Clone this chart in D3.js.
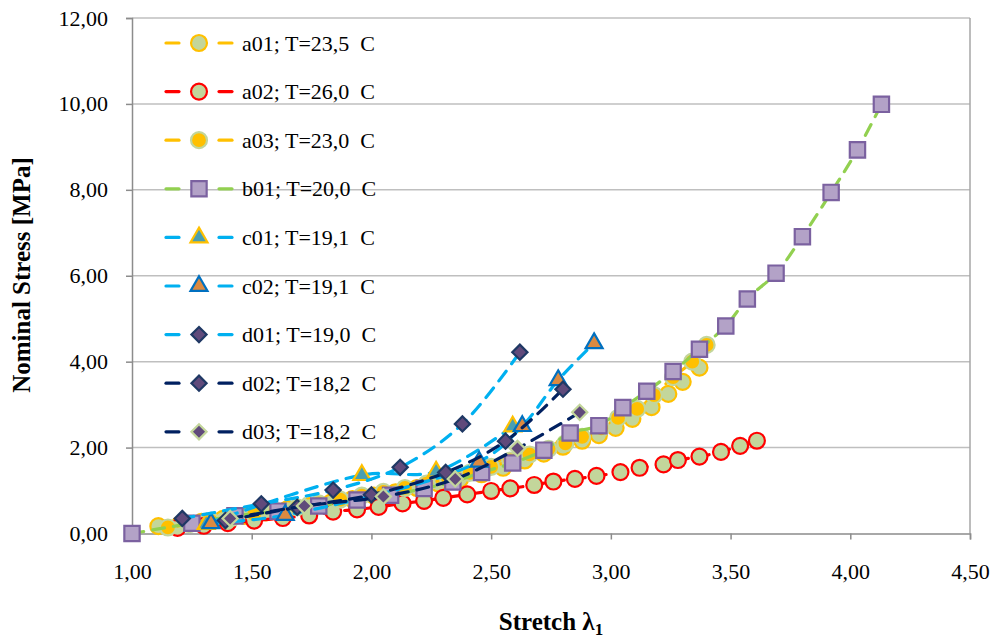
<!DOCTYPE html>
<html>
<head>
  <meta charset="utf-8">
  <title>Nominal stress vs stretch</title>
  <script src="https://d3js.org/d3.v7.min.js"></script>
  <style>
    body { margin: 0; background: #fff; }
    text { font-family: "Liberation Serif", "Times New Roman", serif; fill: #000; }
  </style>
</head>
<body>
<div id="chart"></div>
<script>
// values
var a01X = [1.11, 1.20, 1.29, 1.38, 1.47, 1.56, 1.65, 1.74, 1.83, 1.92, 2.01, 2.10, 2.19, 2.28, 2.37, 2.46, 2.55, 2.64, 2.72, 2.80, 2.88, 2.95, 3.02, 3.09, 3.17, 3.24, 3.30, 3.37];
var a01Y = [0.17, 0.21, 0.27, 0.34, 0.41, 0.49, 0.57, 0.64, 0.72, 0.80, 0.88, 0.96, 1.06, 1.16, 1.26, 1.38, 1.53, 1.70, 1.86, 2.02, 2.16, 2.29, 2.46, 2.67, 2.94, 3.25, 3.53, 3.86];
var a02X = [1.19, 1.30, 1.40, 1.51, 1.63, 1.74, 1.84, 1.94, 2.03, 2.13, 2.22, 2.30, 2.40, 2.50, 2.58, 2.68, 2.76, 2.85, 2.94, 3.04, 3.12, 3.22, 3.28, 3.37, 3.46, 3.54, 3.61];
var a02Y = [0.13, 0.18, 0.24, 0.30, 0.36, 0.42, 0.51, 0.56, 0.62, 0.70, 0.76, 0.83, 0.91, 0.99, 1.05, 1.13, 1.21, 1.27, 1.34, 1.43, 1.53, 1.61, 1.71, 1.79, 1.90, 2.04, 2.16];
var a03X = [1.15, 1.24, 1.33, 1.42, 1.51, 1.60, 1.69, 1.78, 1.87, 1.96, 2.05, 2.14, 2.23, 2.32, 2.41, 2.50, 2.58, 2.66, 2.74, 2.81, 2.88, 2.96, 3.03, 3.11, 3.18, 3.26, 3.34, 3.40];
var a03Y = [0.14, 0.22, 0.29, 0.37, 0.45, 0.53, 0.61, 0.70, 0.79, 0.88, 0.97, 1.06, 1.16, 1.28, 1.41, 1.55, 1.70, 1.84, 1.97, 2.10, 2.25, 2.45, 2.69, 2.90, 3.22, 3.64, 4.00, 4.39];
var b01X = [1.00, 1.25, 1.43, 1.61, 1.78, 1.94, 2.08, 2.22, 2.34, 2.46, 2.59, 2.72, 2.83, 2.95, 3.05, 3.15, 3.26, 3.37, 3.48, 3.57, 3.69, 3.80, 3.92, 4.03, 4.13];
var b01Y = [0.00, 0.24, 0.41, 0.52, 0.64, 0.78, 0.89, 1.05, 1.20, 1.42, 1.64, 1.94, 2.34, 2.51, 2.93, 3.31, 3.77, 4.29, 4.83, 5.46, 6.06, 6.91, 7.94, 8.93, 9.99];
var c01X = [1.31, 1.96, 2.27, 2.59];
var c01Y = [0.22, 1.36, 1.44, 2.49];
var c02X = [1.33, 1.64, 2.45, 2.63, 2.78, 2.93];
var c02Y = [0.24, 0.43, 1.67, 2.50, 3.57, 4.43];
var d01X = [1.21, 1.54, 1.84, 2.12, 2.38, 2.62];
var d01Y = [0.35, 0.69, 1.01, 1.54, 2.55, 4.22];
var d02X = [1.39, 1.69, 2.00, 2.31, 2.56, 2.80];
var d02Y = [0.30, 0.61, 0.90, 1.42, 2.15, 3.36];
var d03X = [1.41, 1.72, 2.05, 2.35, 2.61, 2.87];
var d03Y = [0.35, 0.64, 0.86, 1.27, 1.98, 2.82];

var seriesNames = ['a01; T=23,5\u00a0 C', 'a02; T=26,0\u00a0 C', 'a03; T=23,0\u00a0 C', 'b01; T=20,0\u00a0 C',
  'c01; T=19,1\u00a0 C', 'c02; T=19,1\u00a0 C', 'd01; T=19,0\u00a0 C', 'd02; T=18,2\u00a0 C', 'd03; T=18,2\u00a0 C'];
var xTicks = [1.0, 1.5, 2.0, 2.5, 3.0, 3.5, 4.0, 4.5];
var yTicks = [0, 2, 4, 6, 8, 10, 12];

// styles per series
var styles = [
  { line: '#FFC000', shape: 'circle',   fill: '#C3D69B', stroke: '#FFC000' },
  { line: '#FF0000', shape: 'circle',   fill: '#C3D69B', stroke: '#FF0000' },
  { line: '#FFC000', shape: 'circle',   fill: '#FFC000', stroke: '#C3D69B' },
  { line: '#92D050', shape: 'square',   fill: '#B3A2C7', stroke: '#7B61A0' },
  { line: '#00B0F0', shape: 'triangle', fill: '#4A9FB0', stroke: '#FFC000' },
  { line: '#00B0F0', shape: 'triangle', fill: '#DC8A40', stroke: '#0070C0' },
  { line: '#00B0F0', shape: 'diamond',  fill: '#604A7B', stroke: '#1F3864' },
  { line: '#002060', shape: 'diamond',  fill: '#604A7B', stroke: '#1F3864' },
  { line: '#002060', shape: 'diamond',  fill: '#604A7B', stroke: '#C3D69B' }
];
var xs = [a01X, a02X, a03X, b01X, c01X, c02X, d01X, d02X, d03X];
var ys = [a01Y, a02Y, a03Y, b01Y, c01Y, c02Y, d01Y, d02Y, d03Y];

var series = seriesNames.map(function (name, i) {
  return {
    name: name,
    style: styles[i],
    points: xs[i].map(function (x, j) { return { x: x, y: ys[i][j] }; })
  };
});

var width = 996, height = 639;
var x = d3.scaleLinear().domain([1, 4.5]).range([132, 970]);
var y = d3.scaleLinear().domain([0, 12]).range([533.5, 18]);

var fmt = d3.formatLocale({ decimal: ',', thousands: '.', grouping: [3], currency: ['', ''] }).format('.2f');

var svg = d3.select('#chart').append('svg')
  .attr('width', width)
  .attr('height', height);

svg.append('rect').attr('width', width).attr('height', height).attr('fill', '#fff');

// gridlines
svg.append('g')
  .selectAll('line')
  .data(yTicks.filter(function (d) { return d > 0; }))
  .enter().append('line')
    .attr('x1', x(1)).attr('x2', x(4.5))
    .attr('y1', function (d) { return y(d); })
    .attr('y2', function (d) { return y(d); })
    .attr('stroke', '#BFBFBF')
    .attr('stroke-width', 1.5);

// right border
svg.append('line')
  .attr('x1', x(4.5)).attr('x2', x(4.5))
  .attr('y1', y(12)).attr('y2', y(0))
  .attr('stroke', '#A6A6A6').attr('stroke-width', 1.5);

var xAxis = d3.axisBottom(x).tickValues(xTicks).tickFormat(fmt).tickSize(6).tickPadding(24);
var yAxis = d3.axisLeft(y).tickValues(yTicks).tickFormat(fmt).tickSize(6).tickPadding(18);

var gx = svg.append('g').attr('transform', 'translate(0,' + y(0) + ')').call(xAxis);
var gy = svg.append('g').attr('transform', 'translate(' + x(1) + ',0)').call(yAxis);
[gx, gy].forEach(function (g) {
  g.selectAll('path, line').attr('stroke', '#8C8C8C').attr('stroke-width', 1.5);
  g.selectAll('text')
    .style('font-family', '"Liberation Serif", serif')
    .style('font-size', '22px')
    .attr('fill', '#000');
});

// axis titles
svg.append('text')
  .attr('transform', 'translate(30,275) rotate(-90)')
  .attr('text-anchor', 'middle')
  .style('font-size', '25px')
  .style('font-weight', 'bold')
  .text('Nominal Stress [MPa]');

var xt = svg.append('text')
  .attr('x', 551).attr('y', 630)
  .attr('text-anchor', 'middle')
  .style('font-size', '25px')
  .style('font-weight', 'bold');
xt.append('tspan').text('Stretch \u03bb');
xt.append('tspan').attr('dy', 5).style('font-size', '17px').text('1');

// marker shapes
function markerPath(shape) {
  if (shape === 'circle') return d3.symbol(d3.symbolCircle, 200)();
  if (shape === 'square') return d3.symbol(d3.symbolSquare, 235)();
  if (shape === 'triangle') return d3.symbol(d3.symbolTriangle, 125)();
  return d3.symbol(d3.symbolSquare, 115)();
}
function drawMarker(g, s, cx, cy) {
  g.append('path')
    .attr('d', markerPath(s.shape))
    .attr('transform', 'translate(' + cx + ',' + cy + ')' + (s.shape === 'diamond' ? ' rotate(45)' : ''))
    .attr('fill', s.fill)
    .attr('stroke', s.stroke)
    .attr('stroke-width', 2.2);
}

var line = d3.line()
  .x(function (d) { return x(d.x); })
  .y(function (d) { return y(d.y); })
  .curve(d3.curveCatmullRom);

var plot = svg.append('g');
series.forEach(function (s) {
  var g = plot.append('g');
  g.append('path')
    .datum(s.points)
    .attr('fill', 'none')
    .attr('stroke', s.style.line)
    .attr('stroke-width', 3.2)
    .attr('stroke-dasharray', '12,9')
    .attr('stroke-linecap', 'round')
    .attr('d', line);
  s.points.forEach(function (p) { drawMarker(g, s.style, x(p.x), y(p.y)); });
});

// legend
var legend = svg.append('g');
series.forEach(function (s, i) {
  var ly = 43 + i * 48.6;
  var g = legend.append('g');
  [[166, 179], [219, 232]].forEach(function (seg) {
    g.append('line')
      .attr('x1', seg[0]).attr('x2', seg[1])
      .attr('y1', ly).attr('y2', ly)
      .attr('stroke', s.style.line)
      .attr('stroke-width', 3.2)
      .attr('stroke-linecap', 'round');
  });
  drawMarker(g, s.style, 199, ly);
  g.append('text')
    .attr('x', 242).attr('y', ly + 7.5)
    .style('font-size', '22px')
    .style('white-space', 'pre')
    .text(s.name);
});
</script>
</body>
</html>
